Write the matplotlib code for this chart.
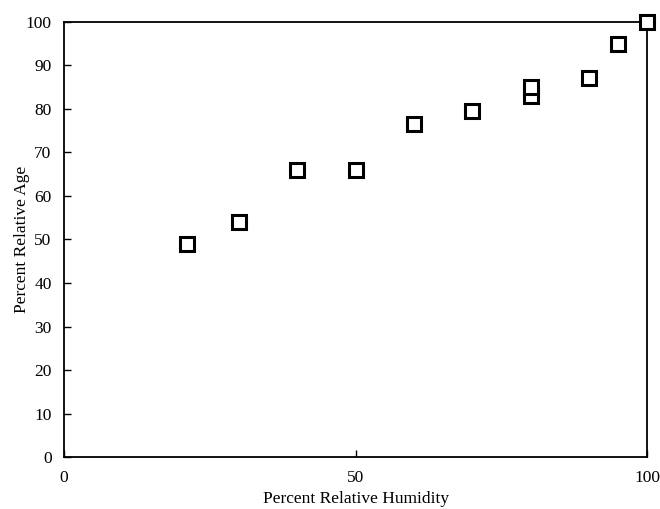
import matplotlib
matplotlib.use("Agg")
import matplotlib.pyplot as plt

humidity = [21, 30, 40, 50, 60, 70, 80, 80, 90, 95, 100]
relative_age = [49, 54, 66, 66, 76.5, 79.5, 83, 85, 87, 95, 100]
x_ticks = [0, 50, 100]
y_ticks = list(range(0, 101, 10))

plt.rcParams['font.family'] = ['Liberation Serif', 'DejaVu Serif']

fig = plt.figure(figsize=(6.6, 5.09), dpi=100)
ax = fig.add_axes([0.097, 0.102, 0.884, 0.855])
ax.plot(humidity, relative_age, linestyle='none', marker='s', markersize=9.5,
        markerfacecolor='white', markeredgecolor='black', markeredgewidth=2.2,
        clip_on=False, zorder=5)
ax.set_xlim(0, 100)
ax.set_ylim(0, 100)
ax.set_xticks(x_ticks)
ax.set_yticks(y_ticks)
ax.tick_params(direction='in', length=5, width=1, labelsize=12.5, colors='black')
ax.tick_params(axis='y', pad=9)
ax.tick_params(axis='x', pad=9)
for s in ax.spines.values():
    s.set_linewidth(1.3)
ax.set_xlabel('Percent Relative Humidity', fontsize=12.5, labelpad=4)
ax.set_ylabel('Percent Relative Age', fontsize=12.5, labelpad=-3)
fig.savefig('out.png', dpi=100)
